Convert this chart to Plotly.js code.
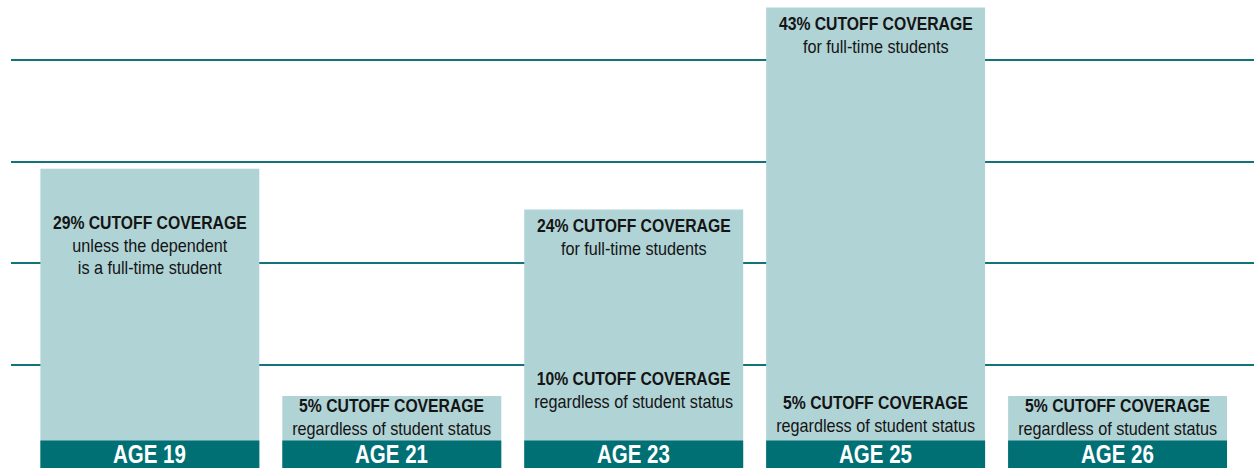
<!DOCTYPE html>
<html>
<head>
<meta charset="utf-8">
<script src="https://cdn.plot.ly/plotly-3.0.1.min.js"></script>
<style>
  html, body { margin: 0; padding: 0; background: #ffffff; }
  #chart { width: 1254px; height: 468px; }
</style>
</head>
<body>
<div id="chart"></div>
<script>
// ---- data ----
const categories = ["AGE 19", "AGE 21", "AGE 23", "AGE 25", "AGE 26"];
// bar heights, in gridline units (gridlines every 10)
const barHeights = [29.3, 6.95, 25.3, 45.15, 6.95];
const topCoverage = ["29%", "5%", "24%", "43%", "5%"];
const topNotes = [
  ["unless the dependent", "is a full-time student"],
  ["regardless of student status"],
  ["for full-time students"],
  ["for full-time students"],
  ["regardless of student status"]
];
const lowerCoverage = [null, null, "10%", "5%", null];
const lowerNotes = [null, null, ["regardless of student status"], ["regardless of student status"], null];

// ---- styles ----
const LIGHT = "#b0d3d6";
const DARK = "#007074";
const GRID = "#127479";
const TEXT = "#141414";
const FONT = "'Liberation Sans', Arial, Helvetica, sans-serif";
const BAND = 2.57;
const BASE = -0.14;
const H = 468, YMIN = -0.14, YMAX = 45.9;
const PPU = H / (YMAX - YMIN);
const py = p => YMAX - p / PPU;
const TEXT_SQUISH = 0.9, AGE_SQUISH = 0.82;

const lightTrace = {
  type: "bar", x: categories, y: barHeights.map(v => v - BASE), base: BASE,
  marker: { color: LIGHT, line: { width: 0 } },
  width: 0.905, hoverinfo: "skip"
};
const bandTrace = {
  type: "bar", x: categories, y: categories.map(() => BAND - BASE), base: BASE,
  marker: { color: DARK, line: { width: 0 } },
  width: 0.905, hoverinfo: "skip"
};

function block(cov, notes) {
  return "<b>" + cov + " CUTOFF COVERAGE</b><br>" +
    notes.map(n => "<span style='font-size:18px'>" + n + "</span>").join("<br>");
}

// vertical centres of text blocks (pixel rows in the picture)
const topCentres = [246, 417, 237, 35.5, 417];
const lowerCentres = [null, null, 390, 414.5, null];

const annotations = [];
const squish = [];
categories.forEach((c, i) => {
  annotations.push({
    x: c, y: py(topCentres[i]), xref: "x", yref: "y",
    text: block(topCoverage[i], topNotes[i]),
    showarrow: false, xanchor: "center", yanchor: "middle",
    font: { family: FONT, size: 17.5, color: TEXT }
  });
  squish.push(TEXT_SQUISH);
  if (lowerCoverage[i]) {
    annotations.push({
      x: c, y: py(lowerCentres[i]), xref: "x", yref: "y",
      text: block(lowerCoverage[i], lowerNotes[i]),
      showarrow: false, xanchor: "center", yanchor: "middle",
      font: { family: FONT, size: 17.5, color: TEXT }
    });
    squish.push(TEXT_SQUISH);
  }
  annotations.push({
    x: c, y: py(454), xref: "x", yref: "y",
    text: "<b>" + c + "</b>",
    showarrow: false, xanchor: "center", yanchor: "middle",
    font: { family: FONT, size: 25, color: "#ffffff" }
  });
  squish.push(AGE_SQUISH);
});

const layout = {
  width: 1254, height: 468,
  margin: { l: 11, r: 0, t: 0, b: 0, pad: 0 },
  paper_bgcolor: "#ffffff", plot_bgcolor: "#ffffff",
  barmode: "overlay",
  showlegend: false,
  xaxis: {
    type: "category", range: [-0.574, 4.564],
    showgrid: false, zeroline: false, showticklabels: false, showline: false, ticks: ""
  },
  yaxis: {
    range: [YMIN, YMAX],
    tickmode: "array", tickvals: [10, 20, 30, 40],
    showgrid: true, gridcolor: GRID, gridwidth: 2,
    zeroline: false, showticklabels: false, showline: false, ticks: ""
  },
  annotations: annotations
};

// condense annotation text horizontally (no condensed face is installed)
function condense() {
  document.querySelectorAll("#chart g.annotation").forEach(g => {
    const idx = +g.getAttribute("data-index");
    const s = squish[idx];
    const t = g.querySelector("text.annotation-text");
    if (!t || !s) return;
    t.removeAttribute("data-squish");
    const bb = t.getBBox();
    const cx = bb.x + bb.width / 2;
    t.setAttribute("transform", "translate(" + cx + ",0) scale(" + s + ",1) translate(" + (-cx) + ",0)");
  });
}

Plotly.newPlot("chart", [lightTrace, bandTrace], layout, { displayModeBar: false, staticPlot: true })
  .then(condense);
</script>
</body>
</html>
